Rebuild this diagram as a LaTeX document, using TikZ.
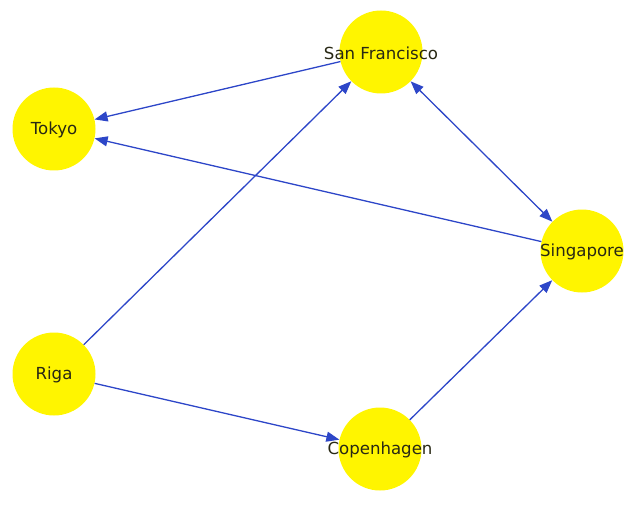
\documentclass[tikz,border=0pt]{standalone}
\usepackage{fontspec}
\setmainfont{DejaVu Sans}
\usetikzlibrary{arrows.meta}
\definecolor{nodey}{RGB}{255,245,0}
\definecolor{edgeb}{RGB}{45,70,200}
\definecolor{txt}{RGB}{40,40,20}
\begin{document}
\begin{tikzpicture}[x=1pt,y=-1pt,
  city/.style={circle,fill=nodey,draw=none,minimum size=83pt,inner sep=0pt,
    label={[text=txt,font=\fontsize{16.6}{18}\selectfont,yshift=-1pt]center:#1}},
  edge/.style={draw=edgeb,line width=1.3pt,-{Triangle[length=13pt,width=10pt]}},
  bedge/.style={draw=edgeb,line width=1.3pt,{Triangle[length=13pt,width=10pt]}-{Triangle[length=13pt,width=10pt]}}]
\useasboundingbox (0,0) rectangle (639,505);
\node[city=San Francisco] (sf) at (381,52) {};
\node[city=Tokyo] (tk) at (54,129) {};
\node[city=Singapore] (sg) at (582,251) {};
\node[city=Riga] (rg) at (54,374) {};
\node[city=Copenhagen] (cp) at (380,449) {};
\draw[edge] (sf) -- (tk);
\draw[edge] (sg) -- (tk);
\draw[bedge] (sf) -- (sg);
\draw[edge] (rg) -- (sf);
\draw[edge] (rg) -- (cp);
\draw[edge] (cp) -- (sg);
\end{tikzpicture}
\end{document}
